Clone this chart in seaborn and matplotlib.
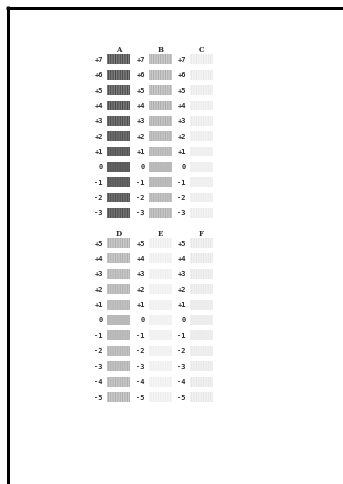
import matplotlib
matplotlib.use("Agg")
import matplotlib.pyplot as plt
from matplotlib.lines import Line2D
import pandas as pd
import seaborn as sns

# ---------------- data ----------------
offsets_top = ["+7", "+6", "+5", "+4", "+3", "+2", "+1", "0", "-1", "-2", "-3"]
columns_top = ["A", "B", "C"]
tone_A = [0.41, 0.41, 0.41, 0.40, 0.40, 0.39, 0.38, 0.37, 0.38, 0.39, 0.40]
tone_B = [0.75, 0.75, 0.75, 0.74, 0.74, 0.74, 0.74, 0.73, 0.73, 0.74, 0.74]
tone_C = [0.94, 0.94, 0.94, 0.94, 0.94, 0.94, 0.94, 0.94, 0.94, 0.94, 0.94]
stripe_top = [0.16, 0.16, 0.15, 0.14, 0.12, 0.09, 0.06, 0.03, 0.05, 0.09, 0.12]

offsets_bottom = ["+5", "+4", "+3", "+2", "+1", "0", "-1", "-2", "-3", "-4", "-5"]
columns_bottom = ["D", "E", "F"]
tone_D = [0.75, 0.75, 0.75, 0.74, 0.74, 0.73, 0.73, 0.74, 0.74, 0.75, 0.75]
tone_E = [0.95, 0.95, 0.95, 0.95, 0.95, 0.95, 0.95, 0.95, 0.95, 0.95, 0.95]
tone_F = [0.93, 0.93, 0.93, 0.93, 0.93, 0.93, 0.93, 0.93, 0.93, 0.93, 0.93]
stripe_bottom = [0.15, 0.14, 0.12, 0.09, 0.06, 0.03, 0.04, 0.07, 0.10, 0.13, 0.15]

# ---------------- style ----------------
sns.set_theme(style="white")
plt.rcParams["font.family"] = ["DejaVu Sans Mono", "DejaVu Sans"]
plt.rcParams["hatch.linewidth"] = 0.6

W, H = 343, 484
fig = plt.figure(figsize=(W / 100, H / 100), dpi=100)
fig.patch.set_facecolor("white")

col_left = [107, 149, 190]
col_width = 23
stripe_scale = {"A": 1.0, "B": 0.6, "C": 0.25, "D": 0.6, "E": 0.2, "F": 0.3}

groups = [
    dict(offsets=offsets_top, cols=columns_top, tones=[tone_A, tone_B, tone_C],
         stripe=stripe_top, top=51.7, step=15.35),
    dict(offsets=offsets_bottom, cols=columns_bottom, tones=[tone_D, tone_E, tone_F],
         stripe=stripe_bottom, top=235.3, step=15.4),
]

for g in groups:
    n = len(g["offsets"])
    for j, (col, tones) in enumerate(zip(g["cols"], g["tones"])):
        ax = fig.add_axes([col_left[j] / W, 1 - (g["top"] + n * g["step"]) / H,
                           col_width / W, n * g["step"] / H])
        df = pd.DataFrame({"offset": g["offsets"], "width": [1] * n})
        sns.barplot(data=df, x="width", y="offset", orient="h", ax=ax,
                    width=0.64, color="gray", errorbar=None, saturation=1)
        k = stripe_scale[col]
        for p, t, s in zip(ax.patches, tones, g["stripe"]):
            face = min(1.0, t + s * 0.5 * k)
            hatch = max(0.0, t - s * k)
            p.set_facecolor(str(face))
            p.set_edgecolor(str(hatch))
            p.set_hatch("|||||||")
            p.set_linewidth(0)
        ax.set_xlim(0, 1)
        ax.set_ylim(n - 0.5, -0.5)
        ax.set_xticks([])
        ax.set_xlabel("")
        ax.set_ylabel("")
        ax.set_facecolor("none")
        for sp in ax.spines.values():
            sp.set_visible(False)
        ax.tick_params(axis="y", length=0, pad=3.0, labelsize=5.0, labelcolor="#2e2e2e")
        for lab in ax.get_yticklabels():
            lab.set_fontweight("bold")
        ax.text(0.5, -0.58, col, transform=ax.get_yaxis_transform(), ha="center",
                va="center", fontsize=5.0, fontweight="bold", color="#2e2e2e",
                family=["DejaVu Serif"])

# page border (top and left edges)
fig.add_artist(Line2D([6 / W, 1], [1 - 7.5 / H, 1 - 7.5 / H], lw=3 * 0.72,
                      color="black", transform=fig.transFigure, solid_capstyle="butt"))
fig.add_artist(Line2D([7.5 / W, 7.5 / W], [0, 1 - 6 / H], lw=3 * 0.72,
                      color="black", transform=fig.transFigure, solid_capstyle="butt"))

fig.savefig("out.png", dpi=100, facecolor="white")
